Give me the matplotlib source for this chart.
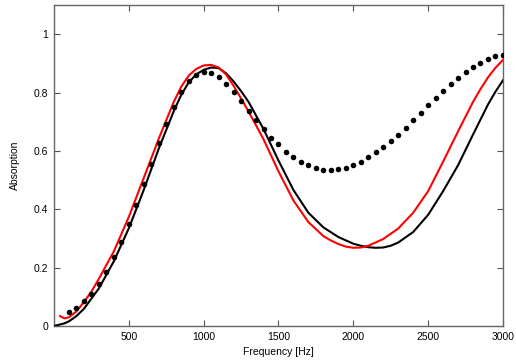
import matplotlib
matplotlib.use("Agg")
import matplotlib.pyplot as plt

plt.rcParams['font.family'] = ['Liberation Sans', 'DejaVu Sans']

# Measured absorption (dots)
meas_freq = list(range(100, 3001, 50))
meas_abs = [0.048, 0.062, 0.085, 0.111, 0.145, 0.186, 0.235, 0.289, 0.350, 0.415,
            0.486, 0.556, 0.627, 0.694, 0.752, 0.801, 0.838, 0.859, 0.870, 0.866,
            0.853, 0.831, 0.803, 0.771, 0.738, 0.707, 0.676, 0.646, 0.623, 0.598,
            0.578, 0.563, 0.551, 0.541, 0.536, 0.535, 0.537, 0.543, 0.552, 0.563,
            0.578, 0.595, 0.613, 0.635, 0.656, 0.680, 0.705, 0.730, 0.757, 0.781,
            0.806, 0.828, 0.850, 0.870, 0.888, 0.903, 0.914, 0.925, 0.930]

# Model 1 (red)
red_freq = [40, 70, 100, 150, 200, 250, 300, 400, 500, 600, 700, 800, 850, 900,
            950, 1000, 1050, 1100, 1150, 1200, 1250, 1300, 1400, 1500, 1600, 1700,
            1800, 1850, 1900, 1950, 2000, 2050, 2100, 2200, 2300, 2400, 2500, 2600,
            2700, 2800, 2850, 2900, 2950, 3000]
red_abs = [0.034, 0.026, 0.030, 0.050, 0.082, 0.118, 0.162, 0.256, 0.374, 0.508,
           0.642, 0.768, 0.820, 0.858, 0.881, 0.893, 0.895, 0.886, 0.862, 0.823,
           0.780, 0.735, 0.640, 0.530, 0.430, 0.356, 0.308, 0.293, 0.281, 0.272,
           0.268, 0.269, 0.275, 0.298, 0.334, 0.388, 0.462, 0.563, 0.667, 0.768,
           0.812, 0.852, 0.885, 0.912]

# Model 2 (black)
blk_freq = [0, 70, 100, 150, 200, 300, 400, 500, 600, 700, 800, 850, 900, 950,
            1000, 1050, 1100, 1150, 1200, 1250, 1300, 1400, 1500, 1600, 1700, 1800,
            1900, 2000, 2050, 2100, 2150, 2200, 2250, 2300, 2400, 2500, 2600, 2700,
            2800, 2900, 2950, 3000]
blk_abs = [0.0, 0.009, 0.016, 0.034, 0.059, 0.129, 0.222, 0.335, 0.467, 0.608,
           0.736, 0.792, 0.835, 0.862, 0.878, 0.886, 0.884, 0.866, 0.838, 0.805,
           0.768, 0.675, 0.567, 0.466, 0.388, 0.338, 0.305, 0.282, 0.275, 0.270,
           0.268, 0.269, 0.275, 0.286, 0.322, 0.381, 0.462, 0.551, 0.656, 0.759,
           0.803, 0.842]

x_ticks = [500, 1000, 1500, 2000, 2500, 3000]
y_ticks = [0, 0.2, 0.4, 0.6, 0.8, 1.0]
y_ticklabels = ["0", "0.2", "0.4", "0.6", "0.8", "1"]

fig = plt.figure(figsize=(5.16, 3.61), dpi=100)
ax = fig.add_axes([0.1047, 0.097, 0.870, 0.889])

ax.plot(blk_freq, blk_abs, color='black', lw=1.5, zorder=3)
ax.plot(red_freq, red_abs, color='#ff0000', lw=1.5, zorder=4)
ax.plot(meas_freq, meas_abs, 'o', color='black', ms=4.0, mec='none', zorder=5)

ax.set_xlim(0, 3000)
ax.set_ylim(0, 1.1)
ax.set_xticks(x_ticks)
ax.set_yticks(y_ticks)
ax.set_yticklabels(y_ticklabels)
ax.tick_params(direction='in', length=4, width=0.8, color='#555555',
               top=True, right=True, labelsize=7.5, pad=4)
for s in ax.spines.values():
    s.set_color('#666666')
    s.set_linewidth(1.0)

ax.set_xlabel('Frequency [Hz]', fontsize=7.5, labelpad=4)
ax.set_ylabel('Absorption', fontsize=7.5, labelpad=10)

fig.savefig('out.png', dpi=100)
